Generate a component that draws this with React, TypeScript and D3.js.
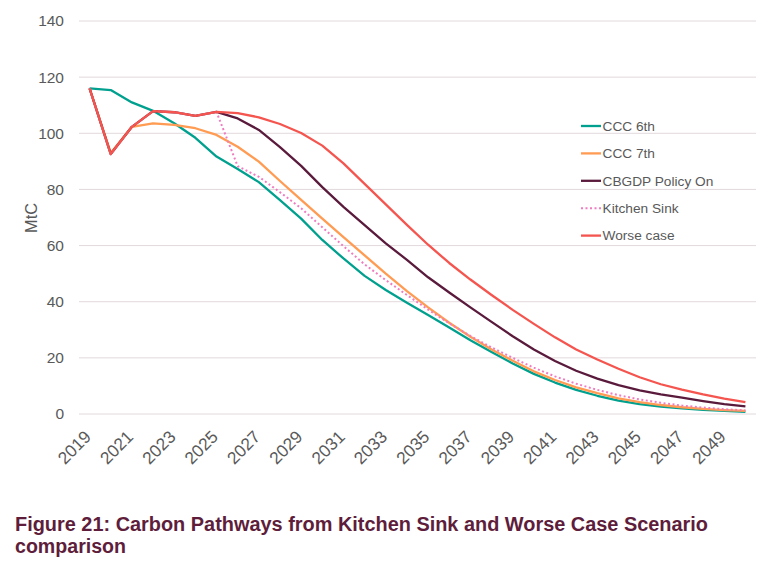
import React from "react";
import * as d3 from "d3";

const years = [
  "2019", "2020", "2021", "2022", "2023", "2024", "2025", "2026",
  "2027", "2028", "2029", "2030", "2031", "2032", "2033", "2034",
  "2035", "2036", "2037", "2038", "2039", "2040", "2041", "2042",
  "2043", "2044", "2045", "2046", "2047", "2048", "2049", "2050",
];

const ccc6th = [116, 115.4, 111, 108, 103.6, 98.4, 91.7, 87.3, 82.6, 76.2, 69.6, 62, 55.4, 49.2, 44.2, 39.6, 35.3, 30.8, 26.3, 22.1, 18, 14.3, 11.2, 8.6, 6.5, 4.8, 3.5, 2.6, 2.0, 1.5, 1.1, 0.8];
const ccc7th = [116, 93, 102.3, 103.5, 103, 101.8, 99.4, 95.2, 89.9, 83, 76.3, 69.6, 63, 56.5, 50, 43.8, 38, 32.5, 27.5, 23, 19, 15.2, 12.1, 9.5, 7.4, 5.6, 4.2, 3.2, 2.4, 1.8, 1.4, 1.1];
const cbgdp = [116, 92.6, 102.3, 107.9, 107.5, 106.2, 107.6, 105.3, 101.2, 95.1, 88.4, 80.8, 73.8, 67.3, 60.8, 54.9, 48.7, 43.3, 38, 32.8, 27.7, 23, 18.9, 15.4, 12.6, 10.3, 8.4, 7, 5.8, 4.6, 3.5, 2.7];
const kitchenSink = [116, 92.6, 102.3, 107.9, 107.5, 106.2, 107.6, 88.3, 84.5, 79, 73.3, 66.5, 59.8, 53.3, 47.7, 42.4, 37.2, 32.3, 27.8, 23.7, 20, 16.5, 13.4, 10.8, 8.6, 6.7, 5.2, 4, 3, 2.3, 1.7, 1.3];
const worseCase = [116, 92.6, 102.3, 107.9, 107.5, 106.2, 107.6, 107.2, 105.7, 103.3, 100.1, 95.6, 89.3, 82, 74.7, 67.4, 60.3, 53.8, 47.9, 42.4, 37.1, 32.1, 27.3, 23, 19.4, 16.1, 13.1, 10.6, 8.7, 7, 5.5, 4.2];

const yTicks = [0, 20, 40, 60, 80, 100, 120, 140];
const xTickLabels = ["2019", "2021", "2023", "2025", "2027", "2029", "2031", "2033", "2035", "2037", "2039", "2041", "2043", "2045", "2047", "2049"];

const seriesNames = ["CCC 6th", "CCC 7th", "CBGDP Policy On", "Kitchen Sink", "Worse case"];
const seriesColors = ["#00a08f", "#ff9b52", "#5a1a3c", "#f07cc0", "#f5554f"];
const seriesValues = [ccc6th, ccc7th, cbgdp, kitchenSink, worseCase];
const seriesDashed = [false, false, false, true, false];

const titleLine1 = "Figure 21: Carbon Pathways from Kitchen Sink and Worse Case Scenario";
const titleLine2 = "comparison";
const yAxisTitle = "MtC";

const FONT = "'Liberation Sans', Arial, Helvetica, sans-serif";
const TEXT = "#595959";

export default function App() {
  const W = 761;
  const H = 562;
  const plotLeft = 79;
  const plotRight = 756;
  const yTop = 21;
  const yBottom = 414;

  const x = d3.scaleBand<string>().domain(years).range([plotLeft, plotRight]).padding(0);
  const cx = (yr: string) => (x(yr) as number) + x.bandwidth() / 2;
  const y = d3.scaleLinear().domain([0, 140]).range([yBottom, yTop]);

  const line = d3
    .line<number>()
    .x((_, i) => cx(years[i]))
    .y((v) => y(v));

  const legendX = 581;
  const legendY0 = 126;
  const legendStep = 27.4;

  return (
    <svg
      width={W}
      height={H}
      style={{ position: "absolute", left: 0, top: 0, display: "block", background: "#fff" }}
      fontFamily={FONT}
    >
      <rect x={0} y={0} width={W} height={H} fill="#fff" />
      {yTicks.map((t) => (
        <g key={t}>
          <line x1={plotLeft} x2={plotRight} y1={y(t)} y2={y(t)} stroke="#e2d9dc" strokeWidth={1} />
          <text x={64} y={y(t)} dy="0.35em" textAnchor="end" fontSize={15.5} fill={TEXT}>
            {t}
          </text>
        </g>
      ))}
      {xTickLabels.map((lab) => (
        <text
          key={lab}
          transform={`translate(${cx(lab) + 2.5},${438}) rotate(-45)`}
          textAnchor="end"
          fontSize={17.3}
          fill={TEXT}
        >
          {lab}
        </text>
      ))}
      <text
        transform={`translate(${36.5},${218}) rotate(-90)`}
        textAnchor="middle"
        fontSize={16.3}
        fill={TEXT}
      >
        {yAxisTitle}
      </text>
      {seriesValues.map((vals, i) => (
        <path
          key={seriesNames[i]}
          d={line(vals) as string}
          fill="none"
          stroke={seriesColors[i]}
          strokeWidth={seriesDashed[i] ? 2 : 2.3}
          strokeDasharray={seriesDashed[i] ? "2,2.5" : undefined}
          strokeLinejoin="round"
        />
      ))}
      {seriesNames.map((name, i) => (
        <g key={name} transform={`translate(${legendX},${legendY0 + i * legendStep})`}>
          <line
            x1={0}
            x2={20}
            y1={0}
            y2={0}
            stroke={seriesColors[i]}
            strokeWidth={seriesDashed[i] ? 2 : 2.3}
            strokeDasharray={seriesDashed[i] ? "2,2.5" : undefined}
          />
          <text x={21.5} y={0} dy="0.35em" fontSize={13.7} fill={TEXT}>
            {name}
          </text>
        </g>
      ))}
      <text
        x={15}
        y={531}
        fontSize={19.6}
        fontWeight="bold"
        fill="#5e1d3b"
        textLength={693}
        lengthAdjust="spacingAndGlyphs"
      >
        {titleLine1}
      </text>
      <text x={15} y={553} fontSize={19.6} fontWeight="bold" fill="#5e1d3b">
        {titleLine2}
      </text>
    </svg>
  );
}
